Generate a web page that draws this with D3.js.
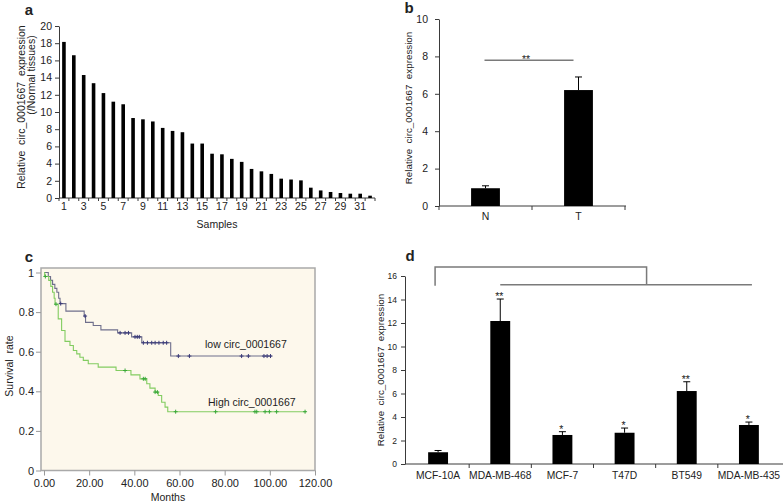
<!DOCTYPE html>
<html><head><meta charset="utf-8">
<script src="https://cdn.jsdelivr.net/npm/d3@7"></script>
<style>
body{margin:0;background:#fff}
svg{display:block;font-family:"Liberation Sans",Arial,sans-serif}
text{white-space:pre}
</style></head><body>
<svg id="chart" width="783" height="503"></svg>
<script>
// ---------- Panel a ----------
const aSamples = ["1","2","3","4","5","6","7","8","9","10","11","12","13","14","15","16","17","18","19","20","21","22","23","24","25","26","27","28","29","30","31","32"];
const aValues = [18.15,16.6,14.3,13.35,12.2,11.2,10.9,9.3,9.15,8.9,8.15,7.8,7.65,6.33,6.33,5.15,5.08,4.55,4.2,3.38,3.1,2.8,2.25,2.15,2.05,1.2,0.88,0.7,0.58,0.5,0.5,0.27];
const aYTicks = [0,2,4,6,8,10,12,14,16,18,20];
const aXLabels = ["1","3","5","7","9","11","13","15","17","19","21","23","25","27","29","31"];
// ---------- Panel b ----------
const bGroups = ["N","T"];
const bMeans = [0.95,6.2];
const bUpper = [1.08,6.9];
const bYTicks = [0,2,4,6,8,10];
const bSigLevel = 7.8;
// ---------- Panel c ----------
const cLowEvents = [[0,1],[1.9,0.98],[2.9,0.96],[3.8,0.94],[4.8,0.92],[5.7,0.9],[6.5,0.87],[7.1,0.843],[9.7,0.805],[17.8,0.78],[18.4,0.748],[21.8,0.732],[25.2,0.71],[32.6,0.695],[38.8,0.675],[43.3,0.645],[56.1,0.578]];
const cLowEnd = 101;
const cLowCensor = [7.4,18.2,33.7,35.9,37.4,40.3,41.3,42.2,44.0,45.8,47.7,49.2,50.9,52.8,54.3,59.5,64.4,87.5,90.5,97.4,98.8,100.3];
const cHighEvents = [[0,1],[0.3,0.98],[2.1,0.96],[3.0,0.93],[3.8,0.9],[4.5,0.87],[4.9,0.84],[6.3,0.766],[7.8,0.707],[9.3,0.652],[11.5,0.631],[13.0,0.606],[14.5,0.589],[15.9,0.572],[17.4,0.556],[19.6,0.539],[24.0,0.522],[31.9,0.505],[38.5,0.483],[42.5,0.463],[45.5,0.438],[46.9,0.416],[49.2,0.396],[50.6,0.379],[52.1,0.345],[53.6,0.32],[54.8,0.297]];
const cHighEnd = 116;
const cHighCensor = [0.6,5.3,35.9,44.0,44.8,49.2,50.2,58.3,76.0,93.4,94.2,97.9,99.8,103.0,115.6];
const cXTicks = [0,20,40,60,80,100,120];
const cYTicks = [0,0.2,0.4,0.6,0.8,1];
// ---------- Panel d ----------
const dLines = ["MCF-10A","MDA-MB-468","MCF-7","T47D","BT549","MDA-MB-435"];
const dMeans = [1.0,12.17,2.47,2.66,6.21,3.32];
const dUpper = [1.15,14.04,2.75,3.06,7.0,3.57];
const dStars = ["","**","*","*","**","*"];
const dYTicks = [0,2,4,6,8,10,12,14,16];
const dBracketTop = 16.77, dBracketLow = 15.25;

const svg = d3.select("#chart");
const AX = "#3a3a3a", TX = "#222";

function label(g, x, y, s, size, anchor, extra) {
  const t = g.append("text").attr("x", x).attr("y", y).text(s)
    .attr("font-size", size).attr("fill", TX).attr("text-anchor", anchor || "middle");
  if (extra) extra(t);
  return t;
}
function styleAxis(sel, size) {
  sel.selectAll("path,line").attr("stroke", AX);
  sel.selectAll("text").attr("font-size", size).attr("fill", TX).attr("font-family", null);
}

// ===== Panel a =====
{
  const g = svg.append("g");
  const x = d3.scaleBand().domain(aSamples).range([59, 375]);
  const y = d3.scaleLinear().domain([0, 20]).range([198, 26]);
  const ya = g.append("g").attr("transform", "translate(59,0)")
    .call(d3.axisLeft(y).tickValues(aYTicks).tickSize(4).tickPadding(3).tickSizeOuter(0));
  styleAxis(ya, 10.5);
  g.append("line").attr("x1", 59).attr("x2", 375).attr("y1", 198).attr("y2", 198).attr("stroke", AX);
  const bounds = aSamples.map(s => x(s)).concat([x.range()[1]]);
  g.selectAll(".bt").data(bounds).join("line").attr("x1", d => d).attr("x2", d => d)
    .attr("y1", 198).attr("y2", 201).attr("stroke", AX);
  g.selectAll(".bar").data(aSamples).join("rect")
    .attr("x", (d) => x(d) + x.bandwidth() / 2 - 1.8).attr("width", 3.6)
    .attr("y", (d, i) => y(aValues[i])).attr("height", (d, i) => y(0) - y(aValues[i]))
    .attr("fill", "#000");
  aXLabels.forEach(l => label(g, x(l) + x.bandwidth() / 2, 210, l, 10.5));
  label(g, 217, 228, "Samples", 10.5);
  label(g, 0, 0, "Relative  circ_0001667  expression", 10.5, "middle",
    t => t.attr("transform", "translate(25,107) rotate(-90)"));
  label(g, 0, 0, "(/Normal tissues)", 10.5, "middle",
    t => t.attr("transform", "translate(35,75) rotate(-90)"));
  label(g, 29, 15, "a", 15, "middle", t => t.attr("font-weight", "bold"));
}

// ===== Panel b =====
{
  const g = svg.append("g");
  const x = d3.scaleBand().domain(bGroups).range([439, 625]);
  const y = d3.scaleLinear().domain([0, 10]).range([206, 19]);
  const ya = g.append("g").attr("transform", "translate(439,0)")
    .call(d3.axisLeft(y).tickValues(bYTicks).tickSize(4).tickPadding(7).tickSizeOuter(0));
  styleAxis(ya, 10.5);
  g.append("line").attr("x1", 439).attr("x2", 626).attr("y1", 206).attr("y2", 206).attr("stroke", AX);
  const bounds = bGroups.map(s => x(s)).concat([x.range()[1]]);
  g.selectAll(".bt").data(bounds).join("line").attr("x1", d => d).attr("x2", d => d)
    .attr("y1", 206).attr("y2", 210).attr("stroke", AX);
  const w = x.step() * 0.31;
  bGroups.forEach((d, i) => {
    const cx = x(d) + x.bandwidth() / 2;
    g.append("line").attr("x1", cx).attr("x2", cx).attr("y1", y(bMeans[i])).attr("y2", y(bUpper[i])).attr("stroke", "#000");
    g.append("line").attr("x1", cx - 3.5).attr("x2", cx + 3.5).attr("y1", y(bUpper[i])).attr("y2", y(bUpper[i])).attr("stroke", "#000");
    g.append("rect").attr("x", cx - w / 2).attr("width", w).attr("y", y(bMeans[i]))
      .attr("height", y(0) - y(bMeans[i])).attr("fill", "#000");
    label(g, cx, 220, d, 10.5);
  });
  const c0 = x("N") + x.bandwidth() / 2, c1 = x("T") + x.bandwidth() / 2;
  g.append("line").attr("x1", c0 - 1).attr("x2", c1 - 5).attr("y1", y(bSigLevel)).attr("y2", y(bSigLevel))
    .attr("stroke", "#7a7a7a").attr("stroke-width", 1.5);
  label(g, (c0 + c1) / 2 - 6, y(bSigLevel) + 3, "**", 10.5);
  label(g, 0, 0, "Relative  circ_0001667  expression", 9.8, "middle",
    t => t.attr("transform", "translate(412,108) rotate(-90)"));
  label(g, 409, 13, "b", 15, "middle", t => t.attr("font-weight", "bold"));
}

// ===== Panel c =====
{
  const g = svg.append("g");
  const x = d3.scaleLinear().domain([0, 120]).range([44, 315]);
  const y = d3.scaleLinear().domain([0, 1]).range([470.5, 272.5]);
  g.append("rect").attr("x", 41).attr("y", 268).attr("width", 315 - 41).attr("height", 470.5 - 268)
    .attr("fill", "#fdf8ec").attr("stroke", "#a9a9a9").attr("stroke-width", 1.5);
  const ya = g.append("g").attr("transform", "translate(41,0)")
    .call(d3.axisLeft(y).tickValues(cYTicks).tickSize(5).tickPadding(2).tickSizeOuter(0)
      .tickFormat(d => d === 0 ? "0" : d === 1 ? "1" : d3.format(".1f")(d)));
  ya.select(".domain").remove();
  styleAxis(ya, 11);
  ya.selectAll("line").attr("stroke", "#999");
  const xa = g.append("g").attr("transform", "translate(0,470.5)")
    .call(d3.axisBottom(x).tickValues(cXTicks).tickSize(5).tickPadding(4).tickSizeOuter(0)
      .tickFormat(d3.format(".2f")));
  xa.select(".domain").remove();
  styleAxis(xa, 11);
  xa.selectAll("line").attr("stroke", "#999");
  label(g, 168, 501, "Months", 10.5);
  label(g, 0, 0, "Survival  rate", 10.5, "middle", t => t.attr("transform", "translate(13,366) rotate(-90)"));
  label(g, 29, 262, "c", 15, "middle", t => t.attr("font-weight", "bold"));

  function drawCurve(events, end, censor, lineCol, markCol) {
    const pts = events.concat([[end, events[events.length - 1][1]]]);
    const line = d3.line().x(d => x(d[0])).y(d => y(d[1])).curve(d3.curveStepAfter);
    g.append("path").attr("d", line(pts)).attr("fill", "none").attr("stroke", lineCol).attr("stroke-width", 1.1);
    const S = t => { let s = 1; for (const e of events) if (e[0] <= t) s = e[1]; return s; };
    censor.forEach(t => {
      const cx = x(t), cy = y(S(t));
      g.append("path").attr("d", `M${cx - 2},${cy}H${cx + 2}M${cx},${cy - 2}V${cy + 2}`)
        .attr("stroke", markCol).attr("stroke-width", 1);
    });
  }
  drawCurve(cLowEvents, cLowEnd, cLowCensor, "#6f6f8c", "#3a3a78");
  drawCurve(cHighEvents, cHighEnd, cHighCensor, "#82cc60", "#3aa83a");
  label(g, 205, 348, "low circ_0001667", 10.5, "start");
  label(g, 208, 405.5, "High circ_0001667", 10.5, "start");
}

// ===== Panel d =====
{
  const g = svg.append("g");
  const x = d3.scaleBand().domain(dLines).range([407, 780]);
  const y = d3.scaleLinear().domain([0, 16]).range([464, 276]);
  const ya = g.append("g").attr("transform", "translate(405,0)")
    .call(d3.axisLeft(y).tickValues(dYTicks).tickSize(4).tickPadding(4).tickSizeOuter(0));
  styleAxis(ya, 8.5);
  g.append("line").attr("x1", 405).attr("x2", 783).attr("y1", 464).attr("y2", 464).attr("stroke", AX);
  const bounds = dLines.slice(1).map(s => x(s));
  g.selectAll(".bt").data(bounds).join("line").attr("x1", d => d).attr("x2", d => d)
    .attr("y1", 464).attr("y2", 468).attr("stroke", AX);
  const w = x.step() * 0.32;
  dLines.forEach((d, i) => {
    const cx = x(d) + x.bandwidth() / 2;
    g.append("line").attr("x1", cx).attr("x2", cx).attr("y1", y(dMeans[i])).attr("y2", y(dUpper[i])).attr("stroke", "#000");
    g.append("line").attr("x1", cx - 3.5).attr("x2", cx + 3.5).attr("y1", y(dUpper[i])).attr("y2", y(dUpper[i])).attr("stroke", "#000");
    g.append("rect").attr("x", cx - w / 2).attr("width", w).attr("y", y(dMeans[i]))
      .attr("height", y(0) - y(dMeans[i])).attr("fill", "#000");
    label(g, cx, 479, d, 10.3);
    if (dStars[i]) label(g, cx - 1, y(dUpper[i]) + 1, dStars[i], 10.5);
  });
  const cA = x(dLines[0]) + x.bandwidth() / 2 - 3;
  const cB = x(dLines[1]) + x.bandwidth() / 2;
  const cE = x(dLines[5]) + x.bandwidth() / 2 + 3;
  const cM = x(dLines[3]) + x.bandwidth() / 2 + 22;
  const yT = y(dBracketTop), yL = y(dBracketLow);
  const br = "#7a7a7a";
  g.append("path").attr("d", `M${cA},${yL + 1}V${yT}H${cM}V${yL}`).attr("fill", "none").attr("stroke", br).attr("stroke-width", 1.5);
  g.append("line").attr("x1", cB).attr("x2", cE).attr("y1", yL).attr("y2", yL).attr("stroke", br).attr("stroke-width", 1.5);
  label(g, 0, 0, "Relative  circ_0001667  expression", 9.8, "middle",
    t => t.attr("transform", "translate(384,370) rotate(-90)"));
  label(g, 410, 261, "d", 15, "middle", t => t.attr("font-weight", "bold"));
}
</script>
</body></html>
